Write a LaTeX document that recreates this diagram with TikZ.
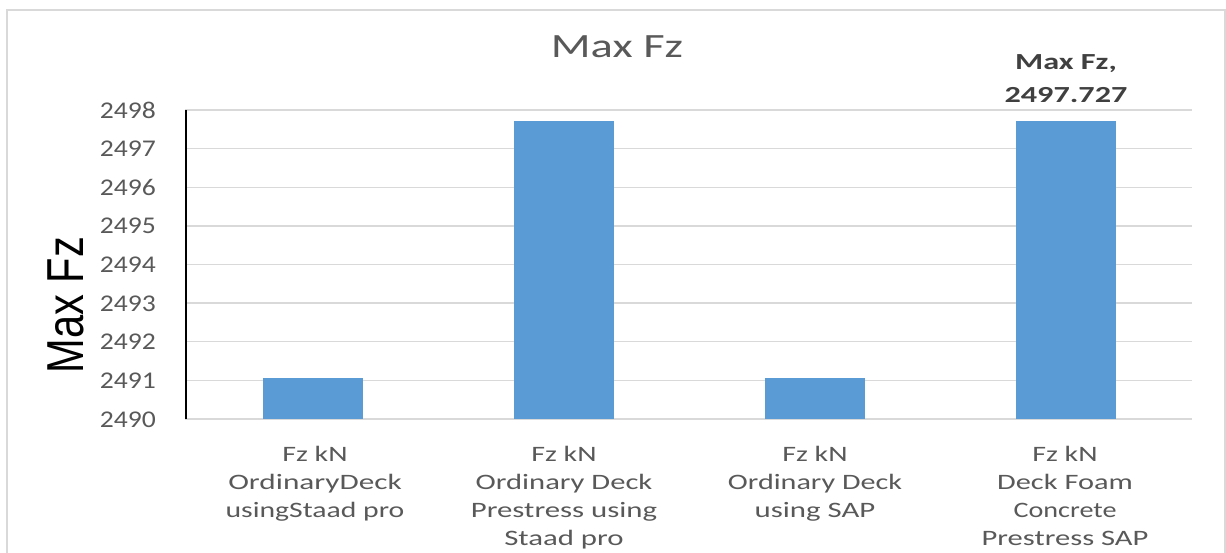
\documentclass[tikz,border=0pt]{standalone}
\usepackage{fontspec}
\setmainfont{Carlito}
\newfontfamily\axisfont{Liberation Sans}
\definecolor{barblue}{HTML}{5B9BD5}
\definecolor{gridgray}{HTML}{D9D9D9}
\definecolor{labelgray}{HTML}{595959}
\definecolor{datagray}{HTML}{404040}

% value -> vertical position on the chart (2490 at the base, 38.625 units per kN)
\newcommand{\valy}[1]{419-(#1-2490)*38.625}
% one line of a category label, widened by the given factor
\newcommand{\cl}[2]{\scalebox{#1}[1]{#2}}
% category label: centred lines, first baseline at the node anchor
\newcommand{\catlines}[1]{\begin{tabular}[t]{@{}c@{}}#1\end{tabular}}

\tikzset{
  gridline/.style={gridgray, line width=1.4pt},
  frameline/.style={gridgray, line width=1.4pt},
  barfill/.style={fill=barblue},
  ticklabel/.style={labelgray, inner sep=0pt, anchor=base east,
    font=\fontsize{24}{28}\selectfont},
  catlabel/.style={labelgray, inner sep=0pt, anchor=base,
    font=\fontsize{22}{28}\selectfont},
  datalabel/.style={datagray, inner sep=0pt, anchor=base,
    font=\fontsize{23}{33}\selectfont\bfseries},
  charttitle/.style={labelgray, inner sep=0pt, anchor=base,
    font=\fontsize{34}{40}\selectfont},
  axistitle/.style={black, inner sep=0pt, anchor=base, rotate=90,
    font=\axisfont\fontsize{52}{60}\selectfont},
}

\begin{document}
\begin{tikzpicture}[x=1pt,y=-1pt]
\useasboundingbox (0,0) rectangle (1226,552);
\clip (0,0) rectangle (1226,552);

% chart frame (runs past the lower edge)
\draw[frameline] (7,10) rectangle (1225,580);

% horizontal gridlines and value labels
\foreach \v in {0,...,8}{
  \draw[gridline] (185,{\valy{2490+\v}}) -- (1192,{\valy{2490+\v}});
  \node[ticklabel] (tick\v) at (156,{\valy{2490+\v}+8}) {\scalebox{1.15}[1]{249\v}};
}

% bars
\fill[barfill] (263,{\valy{2490}}) rectangle (363,{\valy{2491.05}});
\fill[barfill] (514,{\valy{2490}}) rectangle (614,{\valy{2497.727}});
\fill[barfill] (765,{\valy{2490}}) rectangle (865,{\valy{2491.05}});
\fill[barfill] (1016,{\valy{2490}}) rectangle (1116,{\valy{2497.727}});

% vertical axis line
\draw[black, line width=2pt] (186,{\valy{2498}}) -- (186,{\valy{2490}});

% category labels
\node[catlabel] (cat1) at (315,461) {\catlines{\cl{1.36}{Fz kN}\\\cl{1.42}{OrdinaryDeck}\\\cl{1.35}{usingStaad pro}}};
\node[catlabel] (cat2) at (564,461) {\catlines{\cl{1.36}{Fz kN}\\\cl{1.39}{Ordinary Deck}\\\cl{1.4}{Prestress using}\\\cl{1.4}{Staad pro}}};
\node[catlabel] (cat3) at (815,461) {\catlines{\cl{1.36}{Fz kN}\\\cl{1.37}{Ordinary Deck}\\\cl{1.4}{using SAP}}};
\node[catlabel] (cat4) at (1065,461) {\catlines{\cl{1.36}{Fz kN}\\\cl{1.38}{Deck Foam}\\\cl{1.28}{Concrete}\\\cl{1.39}{Prestress SAP}}};

% data label above the last bar
\node[datalabel] (dlab) at (1066,69) {\scalebox{1.4}[1]{\begin{tabular}[t]{@{}c@{}}Max Fz,\\2497.727\end{tabular}}};

% titles
\node[charttitle] (title) at (617,57) {\scalebox{1.37}[1]{Max Fz}};
\node[axistitle] (ytitle) at (83,305) {\scalebox{0.8}[1]{Max Fz}};
\end{tikzpicture}
\end{document}
